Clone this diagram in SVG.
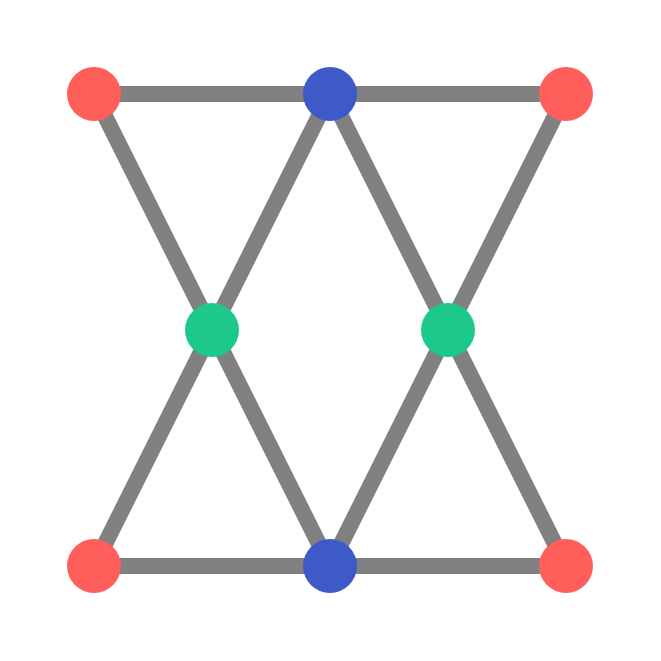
<svg xmlns="http://www.w3.org/2000/svg" width="661" height="661" viewBox="0 0 661 661">
<style>
.e{stroke:#808080;stroke-width:16;stroke-linecap:square;fill:none}
.r{fill:#FF5E5B}.b{fill:#3D5AC8}.g{fill:#1DC98A}
</style>
<rect width="661" height="661" fill="#ffffff"/>
<g id="connectors">
<line class="e" x1="94" y1="94" x2="566" y2="94"/>
<line class="e" x1="94" y1="566" x2="566" y2="566"/>
<line class="e" x1="94" y1="94" x2="330" y2="566"/>
<line class="e" x1="330" y1="94" x2="94" y2="566"/>
<line class="e" x1="330" y1="94" x2="566" y2="566"/>
<line class="e" x1="566" y1="94" x2="330" y2="566"/>
</g>
<g id="n1"><circle class="r" cx="94" cy="94" r="27"/></g>
<g id="n2"><circle class="b" cx="330" cy="94" r="27"/></g>
<g id="n3"><circle class="r" cx="566" cy="94" r="27"/></g>
<g id="n4"><circle class="g" cx="212" cy="330" r="27"/></g>
<g id="n5"><circle class="g" cx="448" cy="330" r="27"/></g>
<g id="n6"><circle class="r" cx="94" cy="566" r="27"/></g>
<g id="n7"><circle class="b" cx="330" cy="566" r="27"/></g>
<g id="n8"><circle class="r" cx="566" cy="566" r="27"/></g>
</svg>
